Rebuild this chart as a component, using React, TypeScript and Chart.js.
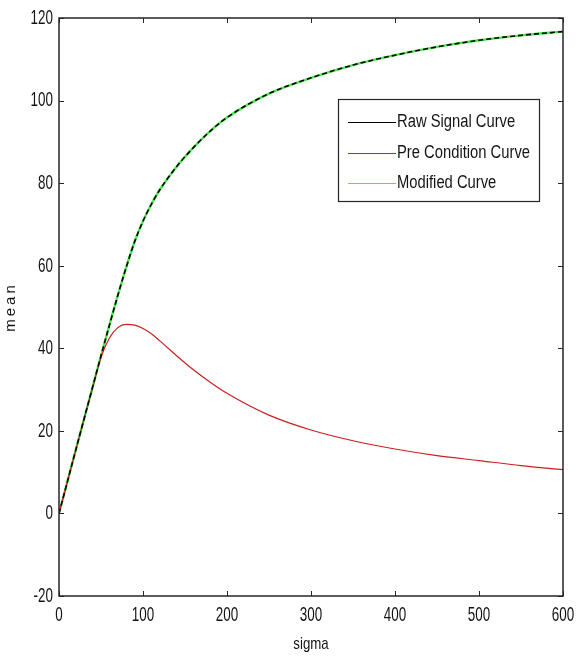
import React, { useEffect, useRef } from "react";
import { Chart, registerables } from "chart.js";

Chart.register(...registerables);

const sigmaValues = [0, 10, 20, 30, 40, 50, 60, 70, 80, 90, 100, 110, 120, 140, 160, 180, 200, 250, 300, 350, 400, 450, 500, 550, 600];
const rawSignal = [0, 7.7, 15.4, 23, 30.6, 38.2, 45.6, 52.8, 59.6, 65.8, 70.8, 74.9, 78.4, 84.0, 88.6, 92.6, 95.9, 101.7, 105.5, 108.6, 111.0, 113.0, 114.6, 115.8, 116.7];
const preCondition = [0, 7.7, 15.4, 23, 30.5, 37.8, 42.5, 45, 45.8, 45.6, 44.8, 43.5, 41.8, 38.2, 34.8, 31.8, 29.1, 23.8, 20.2, 17.6, 15.6, 14, 12.8, 11.6, 10.6];
const modifiedCurve = [0, 7.7, 15.4, 23, 30.6, 38.2, 45.6, 52.8, 59.6, 65.8, 70.8, 74.9, 78.4, 84.0, 88.6, 92.6, 95.9, 101.7, 105.5, 108.6, 111.0, 113.0, 114.6, 115.8, 116.7];
const xTickValues = [0, 100, 200, 300, 400, 500, 600];
const yTickValues = [-20, 0, 20, 40, 60, 80, 100, 120];
const legendLabels = ["Raw Signal Curve", "Pre Condition Curve", "Modified Curve"];
const xTitle = "sigma";
const yTitle = "mean";

const FONT = "'Liberation Sans', Arial, sans-serif";
const AXIS = "#262626";
const TEXT = "#141414";
const RED = "#cc1f1f";
const GREEN = "#4be84b";
const BLACK = "#000000";

function narrowText(ctx: CanvasRenderingContext2D, text: string, x: number, y: number, align: CanvasTextAlign, sx: number) {
  ctx.save();
  ctx.translate(x, y);
  ctx.scale(sx, 1);
  ctx.textAlign = align;
  ctx.fillText(text, 0, 0);
  ctx.restore();
}

export default function App() {
  const ref = useRef<HTMLCanvasElement | null>(null);

  useEffect(() => {
    if (!ref.current) return;
    const pts = (ys: number[]) => sigmaValues.map((x, i) => ({ x, y: ys[i] }));

    const frame = {
      id: "frame",
      afterDraw(chart: any) {
        const ctx: CanvasRenderingContext2D = chart.ctx;
        const { left, right, top, bottom } = chart.chartArea;
        const xs = chart.scales.x;
        const ys = chart.scales.y;
        ctx.save();
        ctx.strokeStyle = AXIS;
        ctx.lineWidth = 1.5;
        ctx.strokeRect(left, top, right - left, bottom - top);
        ctx.lineWidth = 1;
        const tl = 5;
        ctx.beginPath();
        xTickValues.forEach((v) => {
          const p = Math.round(xs.getPixelForValue(v)) + 0.5;
          ctx.moveTo(p, bottom);
          ctx.lineTo(p, bottom - tl);
          ctx.moveTo(p, top);
          ctx.lineTo(p, top + tl);
        });
        yTickValues.forEach((v) => {
          const p = Math.round(ys.getPixelForValue(v)) + 0.5;
          ctx.moveTo(left, p);
          ctx.lineTo(left + tl, p);
          ctx.moveTo(right, p);
          ctx.lineTo(right - tl, p);
        });
        ctx.stroke();

        // tick labels
        ctx.fillStyle = TEXT;
        ctx.font = `21px ${FONT}`;
        ctx.textBaseline = "middle";
        yTickValues.forEach((v) => {
          narrowText(ctx, String(v), left - 6, ys.getPixelForValue(v), "right", 0.64);
        });
        xTickValues.forEach((v) => {
          narrowText(ctx, String(v), xs.getPixelForValue(v), bottom + 19, "center", 0.64);
        });

        // axis titles
        ctx.font = `17px ${FONT}`;
        narrowText(ctx, xTitle, (left + right) / 2, bottom + 48, "center", 0.78);
        ctx.save();
        ctx.translate(11, 307);
        ctx.rotate(-Math.PI / 2);
        ctx.font = `15px ${FONT}`;
        (ctx as any).letterSpacing = "3px";
        ctx.textAlign = "center";
        ctx.fillText(yTitle, 0, 0);
        ctx.restore();

        // legend box
        const bx = 338, by = 99, bw = 201, bh = 102;
        ctx.fillStyle = "#ffffff";
        ctx.fillRect(bx, by, bw, bh);
        ctx.strokeStyle = AXIS;
        ctx.lineWidth = 1.2;
        ctx.strokeRect(bx + 0.5, by + 0.5, bw, bh);
        const colors = [BLACK, RED, GREEN];
        const rows = [122, 153, 183];
        ctx.font = `18px ${FONT}`;
        ctx.textBaseline = "middle";
        const fit = 133 / ctx.measureText(legendLabels[1]).width;
        rows.forEach((ry, i) => {
          ctx.strokeStyle = colors[i];
          ctx.lineWidth = 1.2;
          ctx.beginPath();
          ctx.moveTo(348, ry + 0.5);
          ctx.lineTo(396, ry + 0.5);
          ctx.stroke();
          ctx.fillStyle = TEXT;
          narrowText(ctx, legendLabels[i], 397, ry, "left", fit);
        });
        ctx.restore();
      },
    };

    const chart = new Chart(ref.current, {
      type: "line",
      data: {
        datasets: [
          {
            label: legendLabels[2],
            data: pts(modifiedCurve),
            borderColor: GREEN,
            borderWidth: 2.4,
            pointRadius: 0,
            cubicInterpolationMode: "monotone",
            order: 3,
          },
          {
            label: legendLabels[1],
            data: pts(preCondition),
            borderColor: RED,
            borderWidth: 1.2,
            pointRadius: 0,
            cubicInterpolationMode: "monotone",
            order: 2,
          },
          {
            label: legendLabels[0],
            data: pts(rawSignal),
            borderColor: BLACK,
            borderWidth: 1.6,
            borderDash: [5, 3],
            pointRadius: 0,
            cubicInterpolationMode: "monotone",
            order: 1,
          },
        ],
      },
      options: {
        responsive: false,
        animation: false,
        layout: { padding: { top: 18, right: 13, left: 0, bottom: 0 } },
        plugins: { legend: { display: false }, tooltip: { enabled: false } },
        scales: {
          x: {
            type: "linear",
            min: 0,
            max: 600,
            grid: { display: false, drawTicks: false },
            border: { display: false },
            ticks: { stepSize: 100, display: false },
            title: { display: false },
            afterFit: (s: any) => {
              s.height = 60;
            },
          },
          y: {
            min: -20,
            max: 120,
            grid: { display: false, drawTicks: false },
            border: { display: false },
            ticks: { stepSize: 20, display: false },
            title: { display: false },
            afterFit: (s: any) => {
              s.width = 59;
            },
          },
        },
      },
      plugins: [frame],
    });
    return () => chart.destroy();
  }, []);

  return (
    <div style={{ position: "fixed", left: 0, top: 0, width: 576, height: 656, background: "#fff" }}>
      <canvas ref={ref} width={576} height={656} style={{ display: "block" }} />
    </div>
  );
}
